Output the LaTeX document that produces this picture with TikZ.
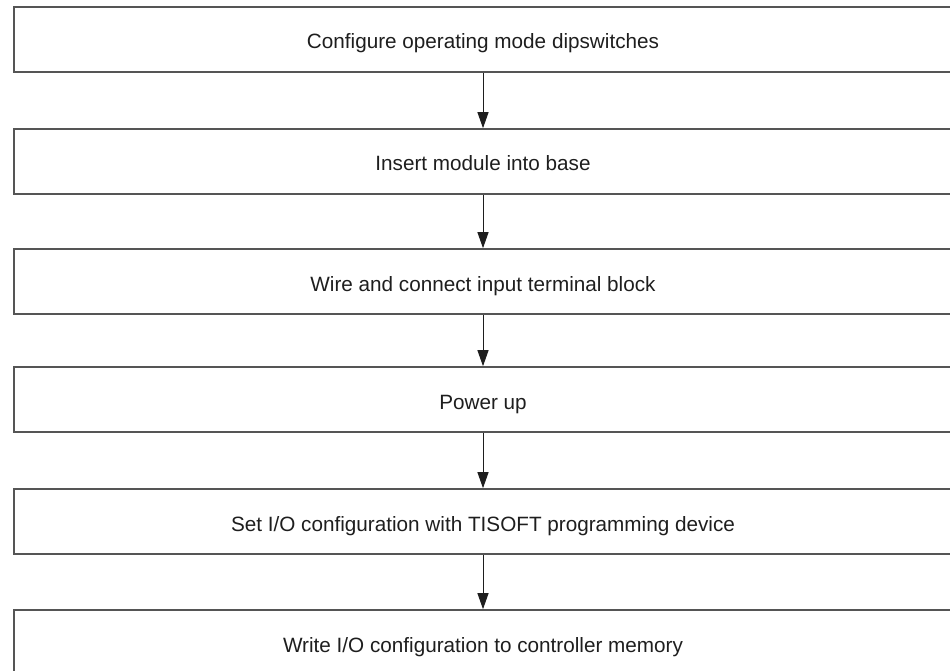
\documentclass[tikz,border=0pt]{standalone}
\usepackage{fontspec}
\setmainfont{Liberation Sans}
\usetikzlibrary{arrows.meta}
\definecolor{boxline}{HTML}{555555}
\definecolor{ink}{HTML}{1E1E1E}
\begin{document}
\begin{tikzpicture}[x=1pt,y=-1pt,
  stepbox/.style={draw=boxline, line width=1.6pt, rectangle, minimum width=938pt,
    minimum height=65pt, inner sep=0pt, text height=19pt, text depth=0pt,
    text=ink, font=\fontsize{20.7}{24}\selectfont},
  flow/.style={draw=ink, line width=1pt, -{Triangle[length=16pt,width=11pt]}}]
  \useasboundingbox (0,0) rectangle (950,671);
  \clip (0,0) rectangle (950,671);
  \node[stepbox] (s1) at (483,39.5)  {Configure operating mode dipswitches};
  \node[stepbox] (s2) at (483,161.5) {Insert module into base};
  \node[stepbox] (s3) at (483,281.5) {Wire and connect input terminal block};
  \node[stepbox] (s4) at (483,399.5) {Power up};
  \node[stepbox] (s5) at (483,521.5) {Set I/O configuration with TISOFT programming device};
  \node[stepbox] (s6) at (483,642.5) {Write I/O configuration to controller memory};
  \foreach \a/\b in {s1/s2,s2/s3,s3/s4,s4/s5,s5/s6}
    \draw[flow] (\a.south) -- (\b.north);
\end{tikzpicture}
\end{document}
